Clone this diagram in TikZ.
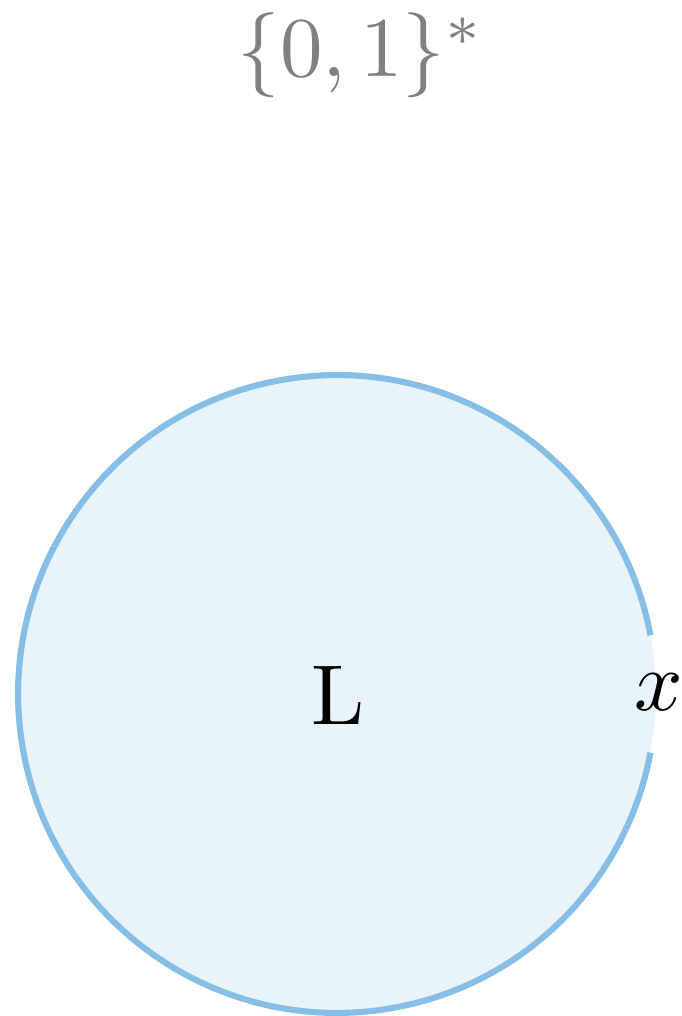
\documentclass[tikz,border=0pt]{standalone}
\definecolor{Lfill}{RGB}{232,243,250}
\definecolor{Lstroke}{RGB}{135,190,230}
\definecolor{titlegray}{RGB}{128,128,128}
\begin{document}
\begin{tikzpicture}[x=0.1176pt,y=-0.1176pt,
  settext/.style={inner sep=0pt, font=\normalsize},
  ring/.style={draw=Lstroke, line width=0.72pt}]
\useasboundingbox (0,0) rectangle (681,1016);
\coordinate (c) at (337,694);
\fill[Lfill] (c) circle[radius=37.5pt];
\draw[ring] (c) ++(10.6:37.5pt) arc[start angle=10.6, end angle=349.4, radius=37.5pt];
\node[settext] (L) at (338,695) {L};
\node[settext] (x) at (659,692) {$x$};
\node[settext, text=titlegray] (title) at (361,55) {$\{0,1\}^*$};
\end{tikzpicture}
\end{document}
